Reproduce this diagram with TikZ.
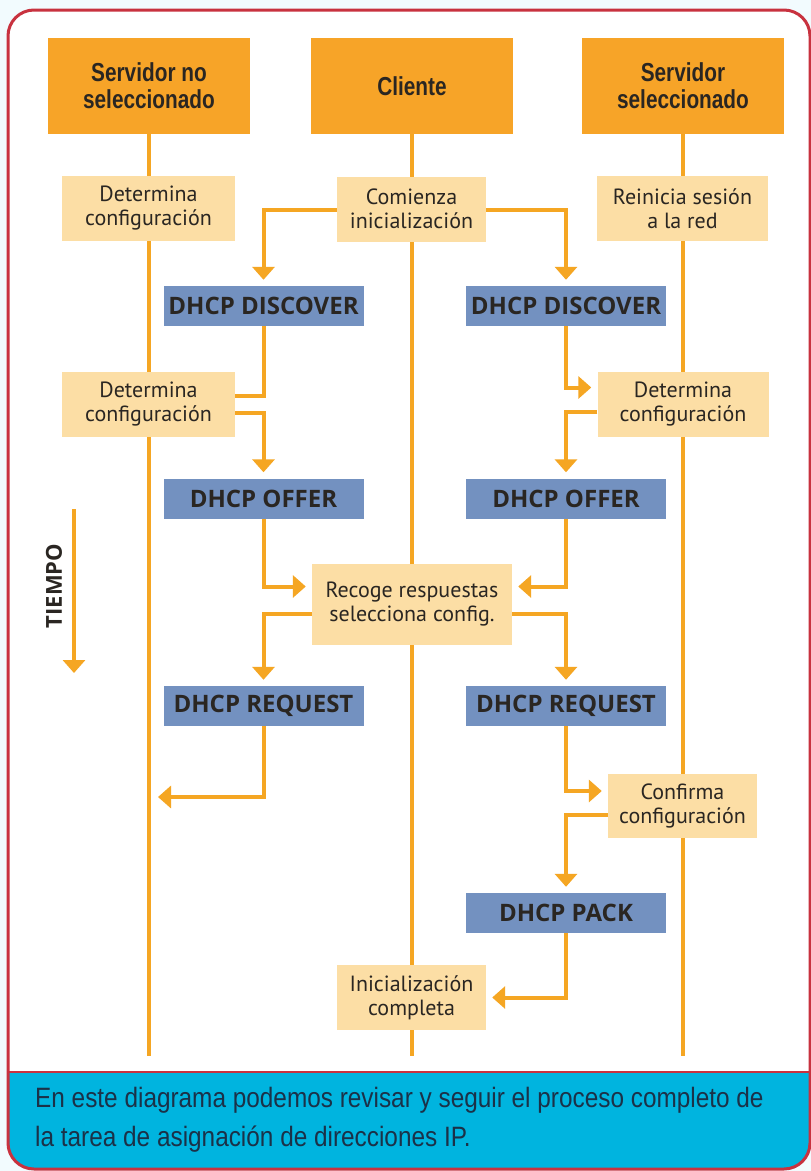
\documentclass[tikz,border=0pt]{standalone}
\usepackage{fontspec}
\setmainfont{PT Sans}
\newfontfamily\headfont[FakeStretch=0.8]{Liberation Sans}
\newfontfamily\notefont[FakeStretch=0.87]{Liberation Sans}
\newfontfamily\msgfont{Open Sans}
\usepackage{tikz}
\usetikzlibrary{positioning, calc, arrows.meta}
\definecolor{hdorange}{HTML}{F7A428}
\definecolor{lineorange}{HTML}{F5A623}
\definecolor{pale}{HTML}{FCDEA5}
\definecolor{msgblue}{HTML}{7391C0}
\definecolor{framered}{HTML}{C8323F}
\definecolor{capblue}{HTML}{00B4DF}
\definecolor{inkdark}{HTML}{2A2622}
\definecolor{capink}{HTML}{1B3148}
\tikzstyle{Flow} = [
%Orange connector with a wide head:
line width=4pt, draw=lineorange,
-{Triangle[width=22pt,length=13pt]},
shorten >= 6pt
]

\begin{document}
\begin{tikzpicture}[x=1pt, y=-1pt,
				header/.style = {rectangle, fill=hdorange, inner sep=0pt, minimum width=202pt, minimum height=96pt, align=center, text=inkdark, font=\headfont\bfseries\fontsize{26}{27}\selectfont},
				note/.style = {rectangle, fill=pale, inner sep=0pt, minimum height=65pt, align=center, text=inkdark, font=\fontsize{22}{24}\selectfont},
				msg/.style = {rectangle, fill=msgblue, inner sep=0pt, minimum width=200pt, minimum height=40pt, text=inkdark, font=\msgfont\bfseries\fontsize{24}{26}\selectfont},
				life/.style = {line width=3.5pt, draw=lineorange},
				Link/.style = {line width=4pt, draw=lineorange},
			]

			\fill[white!95!cyan] (0,0) rectangle (811,1171);
			\useasboundingbox (0,0) rectangle (811,1171);
			\begin{scope}
				\clip[rounded corners=26pt] (8,10) rectangle (810,1169);
				\fill[white] (0,0) rectangle (811,1072);
				\fill[capblue] (0,1072) rectangle (811,1171);
			\end{scope}
			\draw[framered, line width=2.5pt] (8,1072) -- (810,1072);
			\draw[framered, line width=3pt, rounded corners=26pt] (8,10) rectangle (810,1169);

			\node[anchor=north west, inner sep=0pt, align=left, text=capink, font=\notefont\fontsize{28}{39}\selectfont] (caption) at (35,1087) {En este diagrama podemos revisar y seguir el proceso completo de\\la tarea de asignación de direcciones IP.};

			\node[header] (hdL) at (149,86) {Servidor no\\seleccionado};
			\node[header] (hdC) at (412,86) {Cliente};
			\node[header] (hdR) at (683,86) {Servidor\\seleccionado};

			\coordinate (endL) at (149,1056);
			\coordinate (endC) at (412,1056);
			\coordinate (endR) at (683,1056);
			\draw[life] (hdL.south) -- (endL);
			\draw[life] (hdC.south) -- (endC);
			\draw[life] (hdR.south) -- (endR);

			\node[note, minimum width=173pt] (detL1) at (148.5,208.5) {Determina\\configuración};
			\node[note, minimum width=149pt] (begin) at (411.5,209) {Comienza\\inicialización};
			\node[note, minimum width=171pt] (restart) at (682.5,208.5) {Reinicia sesión\\a la red};
			\node[msg] (discL) at (263.5,306) {DHCP DISCOVER};
			\node[msg] (discR) at (566,306) {DHCP DISCOVER};
			\node[note, minimum width=173pt] (detL2) at (148.5,404.5) {Determina\\configuración};
			\node[note, minimum width=171pt] (detR2) at (683,404.5) {Determina\\configuración};
			\node[msg] (offL) at (263.5,498.5) {DHCP OFFER};
			\node[msg] (offR) at (566,498.5) {DHCP OFFER};
			\node[note, minimum width=200pt, minimum height=81pt] (collect) at (412,604.5) {Recoge respuestas\\selecciona config.};
			\node[msg] (reqL) at (263.5,706) {DHCP REQUEST};
			\node[msg] (reqR) at (566,706) {DHCP REQUEST};
			\node[note, minimum width=149pt, minimum height=64pt] (confirm) at (682.5,806) {Confirma\\configuración};
			\node[msg] (pack) at (566,913) {DHCP PACK};
			\node[note, minimum width=149pt] (done) at (411.5,997.5) {Inicialización\\completa};

			\node[rotate=90, text=inkdark, font=\msgfont\bfseries\fontsize{22}{24}\selectfont] (time) at (54,586) {TIEMPO};
			\coordinate (t0) at (74,509);
			\coordinate (t1) at (74,679);
			\coordinate (backL) at (152,797);

			\draw[Flow] ($(begin.west)+(0,1)$) -| (discL.north);
			\draw[Flow] ($(begin.east)+(0,1)$) -| (discR.north);
			\draw[Link] (discL.south) |- ($(detL2.east)+(0,-9)$);
			\draw[Flow] ($(detL2.east)+(0,8)$) -| (offL.north);
			\draw[Flow] (discR.south) |- ($(detR2.west)+(0,-17)$);
			\draw[Flow] ($(detR2.west)+(0,7)$) -| (offR.north);
			\draw[Flow] (offL.south) |- ($(collect.west)+(0,-18)$);
			\draw[Flow] (offR.south) |- ($(collect.east)+(0,-18)$);
			\draw[Flow] ($(collect.west)+(0,9)$) -| (reqL.north);
			\draw[Flow] ($(collect.east)+(0,9)$) -| (reqR.north);
			\draw[Flow] (reqL.south) |- (backL);
			\draw[Flow] (reqR.south) |- ($(confirm.west)+(0,-15)$);
			\draw[Flow] ($(confirm.west)+(0,9)$) -| (pack.north);
			\draw[Flow] (pack.south) |- (done.east);
			\draw[Flow] (t0) -- (t1);

		\end{tikzpicture}
\end{document}
